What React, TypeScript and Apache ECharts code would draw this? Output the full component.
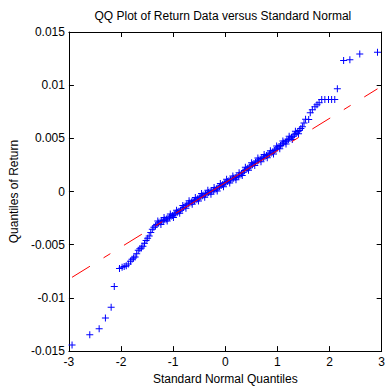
import React, { useEffect, useRef } from "react";
import * as echarts from "echarts";

const titleText = "QQ Plot of Return Data versus Standard Normal";
const xAxisName = "Standard Normal Quantiles";
const yAxisName = "Quantiles of Return";

const xTicks = [-3, -2, -1, 0, 1, 2, 3];
const yTicks = [-0.015, -0.01, -0.005, 0, 0.005, 0.01, 0.015];

// Standard normal quantiles (x) and sample quantiles (y)
const qx = [
  -2.94, -2.6, -2.42, -2.3, -2.19, -2.13, -2.03, -1.98, -1.94, -1.9, -1.86, -1.82, -1.79,
  -1.76, -1.73, -1.7, -1.67, -1.64, -1.61, -1.58, -1.55, -1.52, -1.49, -1.46, -1.43, -1.4,
  -1.37, -1.34, -1.31, -1.28, -1.25, -1.22, -1.19, -1.16, -1.13, -1.1, -1.07, -1.04, -1.01,
  -0.98, -0.95, -0.92, -0.89, -0.86, -0.83, -0.8, -0.77, -0.74, -0.71, -0.68, -0.65, -0.62,
  -0.59, -0.56, -0.53, -0.5, -0.47, -0.44, -0.41, -0.38, -0.35, -0.32, -0.29, -0.26, -0.23,
  -0.2, -0.17, -0.14, -0.11, -0.08, -0.05, -0.02, 0.01, 0.04, 0.07, 0.1, 0.13, 0.16, 0.19,
  0.22, 0.25, 0.28, 0.31, 0.34, 0.37, 0.4, 0.43, 0.46, 0.49, 0.52, 0.55, 0.58, 0.61, 0.64,
  0.67, 0.7, 0.73, 0.76, 0.79, 0.82, 0.85, 0.88, 0.91, 0.94, 0.97, 1.0, 1.03, 1.06, 1.09,
  1.12, 1.15, 1.18, 1.21, 1.24, 1.27, 1.3, 1.33, 1.36, 1.39, 1.42, 1.45, 1.48, 1.51, 1.54,
  1.6, 1.63, 1.67, 1.72, 1.76, 1.8, 1.85, 1.91, 1.98, 2.04, 2.1, 2.15, 2.27, 2.39, 2.58, 2.92,
];
const qy = [
  -0.01443, -0.01346, -0.0129, -0.01188, -0.01088, -0.00892, -0.00724, -0.00712, -0.00705,
  -0.00698, -0.0068, -0.00655, -0.00636, -0.00625, -0.00615, -0.00585, -0.00553, -0.00538,
  -0.0053, -0.00515, -0.00485, -0.0046, -0.0044, -0.00418, -0.00385, -0.00355, -0.00335,
  -0.00322, -0.0031, -0.00296, -0.00287, -0.0028, -0.00272, -0.00265, -0.00257, -0.0025,
  -0.00242, -0.00233, -0.00224, -0.00214, -0.00204, -0.00195, -0.00185, -0.00175, -0.00163,
  -0.0015, -0.00137, -0.00125, -0.00115, -0.00107, -0.00099, -0.00092, -0.00084, -0.00076,
  -0.00068, -0.00058, -0.00048, -0.0004, -0.00032, -0.00024, -0.00016, -0.00009, -0.00003,
  0.00003, 0.00009, 0.00017, 0.00026, 0.00036, 0.00046, 0.00056, 0.00066, 0.00077, 0.00086,
  0.00094, 0.00102, 0.0011, 0.00118, 0.00126, 0.00133, 0.0014, 0.00147, 0.00155, 0.00167,
  0.00182, 0.00197, 0.0021, 0.0022, 0.0023, 0.0024, 0.00252, 0.00264, 0.00276, 0.00286,
  0.00295, 0.00303, 0.0031, 0.00318, 0.00328, 0.00338, 0.00346, 0.00355, 0.00362, 0.00372,
  0.00385, 0.00398, 0.0041, 0.00422, 0.00434, 0.00446, 0.00457, 0.00468, 0.00478, 0.0049,
  0.005, 0.00511, 0.0052, 0.00535, 0.00548, 0.00562, 0.00575, 0.00592, 0.0061, 0.00645,
  0.0068, 0.00678, 0.0074, 0.0077, 0.00797, 0.00815, 0.00835, 0.00865, 0.00865, 0.00865,
  0.00865, 0.00865, 0.00967, 0.01231, 0.01238, 0.01294, 0.0131,
];

// Further points along the upper and lower edges of the dense central band
const bandX = [
  -1.295, -1.235, -1.175, -1.115, -1.055, -0.995, -0.935, -0.875, -0.815, -0.755, -0.695,
  -0.635, -0.575, -0.515, -0.455, -0.395, -0.335, -0.275, -0.215, -0.155, -0.095, -0.035,
  0.025, 0.085, 0.145, 0.205, 0.265, 0.325, 0.385, 0.445, 0.505, 0.565, 0.625, 0.685, 0.745,
  0.805, 0.865, 0.925, 0.985, 1.045, 1.105, 1.165, 1.225, 1.285, 1.345, 1.405,
];
const bandY = [
  -0.00278, -0.00309, -0.00243, -0.00278, -0.00211, -0.00244, -0.00175, -0.00205, -0.00132,
  -0.00156, -0.00086, -0.0012, -0.00055, -0.00088, -0.00019, -0.00053, 0.00013, -0.00025,
  0.00038, 0.00006, 0.00076, 0.00046, 0.00115, 0.00081, 0.00147, 0.00111, 0.00176, 0.0015,
  0.00228, 0.002, 0.00271, 0.00245, 0.00315, 0.00281, 0.00348, 0.00317, 0.00383, 0.00353,
  0.00429, 0.00403, 0.00476, 0.00448, 0.0052, 0.0049, 0.00566, 0.00543,
];

// Reference line through the quartiles: solid between quartiles, dash-dot outside
const fitLowX = [-2.94, -0.674];
const fitLowY = [-0.00806, -0.00121];
const fitMidX = [-0.674, 0.674];
const fitMidY = [-0.00121, 0.00287];
const fitHighX = [0.674, 2.92];
const fitHighY = [0.00287, 0.00966];

const plusPath = "path://M3,0h1v3h3v1h-3v3h-1v-3h-3v-1h3z";

const pairs = (xs: number[], ys: number[]) => xs.map((x, i) => [x, ys[i]]);

const fmtY = (v: number) => {
  const r = Math.round(v * 1000) / 1000;
  return String(r);
};

export default function App() {
  const ref = useRef<HTMLDivElement>(null);
  useEffect(() => {
    if (!ref.current) return;
    const chart = echarts.init(ref.current, undefined, { renderer: "svg" });
    const font = "Arial, 'Liberation Sans', sans-serif";
    const axisCommon = {
      axisLine: { show: true, onZero: false, lineStyle: { color: "#000", width: 1 } },
      axisTick: { show: true, inside: true, length: 5, lineStyle: { color: "#000", width: 1 } },
      splitLine: { show: false },
    };
    const xMin = xTicks[0];
    const xMax = xTicks[xTicks.length - 1];
    const yMin = yTicks[0];
    const yMax = yTicks[yTicks.length - 1];
    chart.setOption({
      animation: false,
      backgroundColor: "#fff",
      textStyle: { fontFamily: font },
      grid: { left: 66, right: 5, top: 32, bottom: 36, containLabel: false },
      graphic: [
        {
          type: "text",
          left: 224.5 - 130,
          top: 10,
          style: {
            text: titleText,
            x: 0,
            y: 0,
            fill: "#000",
            font: `12px ${font}`,
          },
        },
      ],
      xAxis: [
        {
          type: "value",
          min: xMin,
          max: xMax,
          interval: 1,
          position: "bottom",
          ...axisCommon,
          axisLabel: { color: "#000", fontSize: 12, margin: 5 },
          name: xAxisName,
          nameLocation: "middle",
          nameGap: 19,
          nameTextStyle: { color: "#000", fontSize: 12, verticalAlign: "top" },
        },
        {
          type: "value",
          min: xMin,
          max: xMax,
          interval: 1,
          position: "top",
          ...axisCommon,
          axisLabel: { show: false },
        },
      ],
      yAxis: [
        {
          type: "value",
          min: yMin,
          max: yMax,
          interval: 0.005,
          position: "left",
          ...axisCommon,
          axisLabel: { color: "#000", fontSize: 12, margin: 4, formatter: fmtY },
          name: yAxisName,
          nameLocation: "middle",
          nameGap: 45,
          nameRotate: 90,
          nameTextStyle: { color: "#000", fontSize: 12 },
        },
        {
          type: "value",
          min: yMin,
          max: yMax,
          interval: 0.005,
          position: "right",
          ...axisCommon,
          axisLabel: { show: false },
        },
      ],
      series: [
        {
          type: "line",
          data: pairs(fitLowX, fitLowY),
          showSymbol: false,
          symbol: "none",
          lineStyle: { color: "#ff0000", width: 1, type: [21, 16, 8, 16] },
          z: 3,
        },
        {
          type: "line",
          data: pairs(fitMidX, fitMidY),
          showSymbol: false,
          symbol: "none",
          lineStyle: { color: "#ff0000", width: 1, type: "solid" },
          z: 3,
        },
        {
          type: "line",
          data: pairs(fitHighX, fitHighY),
          showSymbol: false,
          symbol: "none",
          lineStyle: { color: "#ff0000", width: 1, type: [21, 16, 8, 16] },
          z: 3,
        },
        {
          type: "scatter",
          data: pairs(qx, qy).concat(pairs(bandX, bandY)),
          symbol: plusPath,
          symbolSize: 7,
          itemStyle: { color: "#0000ff", opacity: 1 },
          z: 2,
        },
      ],
    });
    return () => chart.dispose();
  }, []);
  return (
    <div
      ref={ref}
      style={{ position: "fixed", left: 0, top: 0, width: 388, height: 390, background: "#fff" }}
    />
  );
}
